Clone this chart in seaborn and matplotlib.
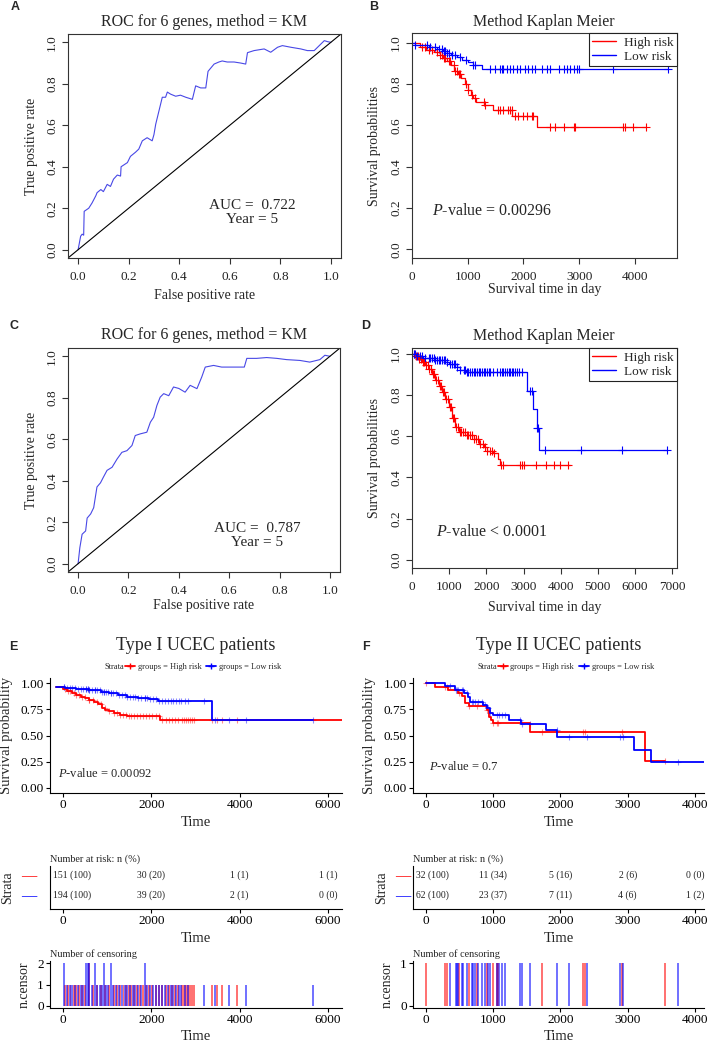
import numpy as np
import matplotlib
matplotlib.use("Agg")
import matplotlib.pyplot as plt
import matplotlib.transforms as mtransforms
from matplotlib.lines import Line2D
import seaborn as sns

# ---------------- data ----------------
roc_a_fpr = [0.0, 0.01, 0.016, 0.022, 0.024, 0.042, 0.055, 0.07, 0.075, 0.09,
             0.10, 0.115, 0.128, 0.14, 0.155, 0.168, 0.170, 0.195, 0.207, 0.227,
             0.24, 0.254, 0.273, 0.293, 0.30, 0.307, 0.32, 0.333, 0.346, 0.353,
             0.366, 0.386, 0.405, 0.426, 0.452, 0.465, 0.485, 0.505, 0.514, 0.538,
             0.557, 0.57, 0.59, 0.617, 0.643, 0.663, 0.67, 0.696, 0.736, 0.762,
             0.789, 0.808, 0.842, 0.881, 0.907, 0.934, 0.954, 0.974, 0.987, 1.0]
roc_a_tpr = [0.0, 0.065, 0.075, 0.07, 0.185, 0.2, 0.225, 0.26, 0.275, 0.29,
             0.28, 0.315, 0.305, 0.34, 0.36, 0.355, 0.40, 0.42, 0.45, 0.47,
             0.485, 0.525, 0.54, 0.525, 0.555, 0.605, 0.67, 0.735, 0.735, 0.76,
             0.75, 0.74, 0.745, 0.735, 0.725, 0.79, 0.78, 0.78, 0.86, 0.895,
             0.905, 0.91, 0.905, 0.905, 0.9, 0.895, 0.95, 0.96, 0.968, 0.952,
             0.976, 0.984, 0.976, 0.968, 0.96, 0.96, 0.984, 1.008, 1.003, 1.0]

roc_c_fpr = [0.0, 0.007, 0.016, 0.03, 0.036, 0.05, 0.062, 0.075, 0.089, 0.10,
             0.115, 0.135, 0.155, 0.174, 0.194, 0.214, 0.227, 0.247, 0.273, 0.287,
             0.30, 0.313, 0.326, 0.34, 0.36, 0.379, 0.40, 0.425, 0.445, 0.472,
             0.491, 0.505, 0.538, 0.57, 0.617, 0.66, 0.67, 0.709, 0.749, 0.789,
             0.828, 0.881, 0.92, 0.96, 0.98, 1.0]
roc_c_tpr = [0.0, 0.077, 0.142, 0.158, 0.22, 0.24, 0.27, 0.37, 0.39, 0.416,
             0.45, 0.465, 0.505, 0.537, 0.545, 0.57, 0.618, 0.626, 0.634, 0.682,
             0.706, 0.763, 0.803, 0.82, 0.81, 0.852, 0.845, 0.827, 0.86, 0.844,
             0.9, 0.948, 0.956, 0.948, 0.948, 0.948, 0.99, 0.99, 0.994, 0.99,
             0.984, 0.98, 0.972, 0.984, 1.005, 1.0]

# Kaplan-Meier steps (time, survival); last entry = end of follow-up
km_b_high_t = [0, 150, 250, 400, 500, 560, 620, 700, 760, 820, 880, 950, 1000,
               1050, 1100, 1150, 1300, 1450, 1800, 2250, 4200]
km_b_high_s = [1, 0.98, 0.965, 0.955, 0.94, 0.925, 0.91, 0.89, 0.865, 0.85, 0.83,
               0.80, 0.77, 0.745, 0.73, 0.715, 0.70, 0.675, 0.645, 0.59, 0.59]
km_b_high_cens = [180, 240, 300, 360, 450, 510, 540, 570, 600, 660, 690, 750, 780,
                  810, 840, 870, 960, 1010, 1075, 1135, 1285, 1315, 1550, 1580,
                  1640, 1730, 1760, 1790, 1850, 1910, 2000, 2060, 2150, 2180, 2480,
                  2570, 2720, 2900, 2930, 3790, 3820, 3970, 4200]
km_b_low_t = [0, 60, 300, 450, 550, 620, 700, 800, 900, 1000, 1100, 1250, 4600]
km_b_low_s = [1, 0.99, 0.98, 0.97, 0.96, 0.95, 0.94, 0.93, 0.915, 0.905, 0.89,
              0.875, 0.875]
km_b_low_cens = [60, 270, 330, 420, 480, 540, 570, 600, 630, 660, 720, 780, 870,
                 960, 1100, 1130, 1400, 1490, 1580, 1610, 1640, 1700, 1760, 1820,
                 1880, 1940, 2030, 2090, 2150, 2210, 2330, 2420, 2480, 2630, 2720,
                 2780, 2840, 2900, 2960, 2990, 3610, 4600]

km_d_high_t = [0, 90, 180, 270, 360, 450, 540, 625, 715, 805, 895, 985, 1075, 1165,
               1255, 1430, 1655, 1790, 1925, 2015, 2190, 2325, 2370, 4250]
km_d_high_s = [1, 0.99, 0.975, 0.96, 0.945, 0.925, 0.90, 0.875, 0.845, 0.815, 0.78,
               0.74, 0.69, 0.645, 0.62, 0.605, 0.585, 0.56, 0.545, 0.53, 0.52, 0.49,
               0.46, 0.46]
km_d_high_cens = [60, 110, 150, 200, 240, 290, 330, 380, 420, 470, 510, 560, 600,
                  650, 690, 740, 780, 830, 870, 920, 960, 1010, 1050, 1100, 1140,
                  1190, 1230, 1280, 1330, 1380, 1420, 1470, 1520, 1570, 1620, 1680,
                  1730, 1780, 1840, 1900, 1960, 2020, 2100, 2150, 2200, 2400, 2450,
                  2900, 2950, 3000, 3330, 3600, 3830, 3970, 4200]
km_d_low_t = [0, 100, 300, 600, 900, 1000, 1200, 1300, 1450, 3100, 3250, 3350, 3430,
              6850]
km_d_low_s = [1, 0.99, 0.98, 0.97, 0.96, 0.95, 0.935, 0.92, 0.91, 0.82, 0.73, 0.64,
              0.535, 0.535]
km_d_low_cens = [45, 90, 130, 220, 270, 360, 450, 490, 540, 580, 630, 670, 720, 760,
                 800, 850, 890, 940, 1030, 1070, 1120, 1160, 1210, 1300, 1390, 1430,
                 1480, 1520, 1570, 1610, 1660, 1700, 1750, 1790, 1840, 1880, 1930,
                 1970, 2020, 2060, 2100, 2190, 2280, 2370, 2420, 2460, 2510, 2550,
                 2600, 2640, 2690, 2730, 2780, 2820, 2870, 2950, 3180, 3230, 3370,
                 3400, 3580, 4550, 5660, 6850]

km_e_high_t = [-160, 0, 100, 200, 300, 400, 500, 600, 700, 800, 880, 960, 1050, 1150,
               1300, 1450, 2200, 6320]
km_e_high_s = [0.96, 0.945, 0.925, 0.905, 0.885, 0.87, 0.855, 0.84, 0.82, 0.80,
               0.765, 0.745, 0.73, 0.714, 0.698, 0.69, 0.65, 0.65]
km_e_high_cens = [40, 110, 170, 240, 300, 370, 430, 490, 600, 600, 680, 760, 860,
                  950, 1050, 1150, 1230, 1300, 1370, 1430, 1490, 1550, 1610, 1680,
                  1740, 1810, 1880, 1950, 2020, 2100, 2180, 2250, 2330, 2400, 2470,
                  2540, 2610, 2690, 2740, 2790, 2830, 2870, 2910, 2960, 3370, 3490,
                  3590, 3940]
km_e_low_t = [-160, 50, 300, 600, 850, 1050, 1250, 1450, 1700, 1950, 2150, 3370, 5650]
km_e_low_s = [0.96, 0.955, 0.945, 0.935, 0.92, 0.905, 0.885, 0.865, 0.855, 0.845,
              0.83, 0.65, 0.65]
km_e_low_cens = [20, 20, 80, 150, 210, 280, 340, 400, 460, 530, 530, 560, 560, 600,
                 600, 650, 730, 730, 780, 830, 880, 920, 920, 970, 1020, 1090, 1090,
                 1140, 1200, 1260, 1330, 1400, 1460, 1520, 1580, 1640, 1700, 1760,
                 1850, 1850, 1900, 1960, 2030, 2100, 2170, 2250, 2320, 2380, 2440,
                 2500, 2560, 2620, 2680, 2760, 2840, 3190, 3450, 3760, 4150, 5660]

km_f_high_t = [0, 130, 330, 480, 530, 580, 640, 900, 930, 960, 1000, 1540, 3250, 3555]
km_f_high_s = [1.0, 0.968, 0.937, 0.905, 0.875, 0.81, 0.78, 0.745, 0.68, 0.645,
               0.615, 0.53, 0.26, 0.26]
km_f_high_cens = [0, 283, 317, 496, 644, 753, 902, 1001, 1051, 1075, 1720, 2340,
                  2364, 2910, 3555]
km_f_low_t = [0, 280, 430, 560, 620, 650, 850, 900, 950, 1000, 1230, 1420, 1780, 1950,
              3100, 3350, 4135]
km_f_low_s = [1.0, 0.97, 0.94, 0.91, 0.87, 0.82, 0.79, 0.76, 0.72, 0.70, 0.65, 0.61,
              0.55, 0.49, 0.36, 0.245, 0.245]
km_f_low_cens = [357, 446, 456, 481, 530, 555, 605, 679, 704, 729, 778, 828, 877, 927,
                 952, 1051, 1090, 1125, 1175, 1398, 1423, 1547, 1943, 2132, 2399, 2885,
                 2935, 3752]

table_e_times = [0, 2000, 4000, 6000]
table_e_high = ["151 (100)", "30 (20)", "1 (1)", "1 (1)"]
table_e_low = ["194 (100)", "39 (20)", "2 (1)", "0 (0)"]
table_f_times = [0, 1000, 2000, 3000, 4000]
table_f_high = ["32 (100)", "11 (34)", "5 (16)", "2 (6)", "0 (0)"]
table_f_low = ["62 (100)", "23 (37)", "7 (11)", "4 (6)", "1 (2)"]

# ---------------- style ----------------
sns.set_theme(style="ticks")
plt.rcParams["font.family"] = ["Liberation Serif", "DejaVu Serif"]
plt.rcParams["mathtext.fontset"] = "custom"
plt.rcParams["mathtext.rm"] = "Liberation Serif"
plt.rcParams["mathtext.it"] = "Liberation Serif:italic"

RED = "#FF0000"
BLUE = "#0000FF"
ROC_COL = "#4848E6"

W, H = 709, 1045
fig = plt.figure(figsize=(W / 100, H / 100), dpi=100)


def rect(l, t, r, b):
    return [l / W, 1 - b / H, (r - l) / W, (b - t) / H]


def fx(px):
    return px / W


def fy(py):
    return 1 - py / H


def xlabel_at(ax, text, py, size):
    ax.set_xlabel(text, fontsize=size)
    tr = mtransforms.blended_transform_factory(ax.transAxes, fig.transFigure)
    ax.xaxis.set_label_coords(0.5, fy(py), transform=tr)
    ax.xaxis.label.set_va("center")


def ylabel_at(ax, text, px, size):
    ax.set_ylabel(text, fontsize=size)
    tr = mtransforms.blended_transform_factory(fig.transFigure, ax.transAxes)
    ax.yaxis.set_label_coords(fx(px), 0.5, transform=tr)
    ax.yaxis.label.set_va("center")


def base_style(ax, xlim, ylim, xticks, yticks):
    ax.set_xlim(xlim)
    ax.set_ylim(ylim)
    ax.set_xticks(xticks)
    ax.set_yticks(yticks)
    for sp in ax.spines.values():
        sp.set_visible(True)
        sp.set_color("#333333")
        sp.set_linewidth(0.8)
    ax.tick_params(direction="out", length=4, width=0.8, color="#333333",
                   labelsize=9.5, labelcolor="#222222", pad=3)
    ax.tick_params(axis="x", pad=5)
    plt.setp(ax.get_yticklabels(), rotation=90, va="center")


def gg_style(ax, xlim, ylim, xticks, yticks):
    ax.set_xlim(xlim)
    ax.set_ylim(ylim)
    ax.set_xticks(xticks)
    ax.set_yticks(yticks)
    sns.despine(ax=ax)
    for s in ("left", "bottom"):
        ax.spines[s].set_color("black")
        ax.spines[s].set_linewidth(0.8)
    ax.tick_params(direction="out", length=3, width=0.8, color="black",
                   labelsize=9.5, labelcolor="black", pad=1.5)


def surv_at(times, surv, t):
    idx = np.searchsorted(np.asarray(times), np.asarray(t), side="right") - 1
    return np.asarray(surv)[np.clip(idx, 0, None)]


def draw_km(ax, t, s, cens, color, lw, size, alpha):
    sns.lineplot(x=t, y=s, drawstyle="steps-post", color=color, linewidth=lw,
                 estimator=None, sort=False, ax=ax, legend=False)
    sns.scatterplot(x=cens, y=surv_at(t, s, cens), marker="+", color=color,
                    s=size, linewidth=0.8, alpha=alpha, ax=ax, legend=False)


def draw_roc(ax, fpr, tpr, auc, pos):
    sns.lineplot(x=fpr, y=tpr, color=ROC_COL, linewidth=0.8, estimator=None,
                 sort=False, ax=ax)
    ax.axline((0, 0), slope=1, color="black", linewidth=0.8)
    base_style(ax, (-0.04, 1.04), (-0.04, 1.04), np.arange(0, 1.01, 0.2),
               np.arange(0, 1.01, 0.2))
    ax.text(pos[0], pos[1], f"AUC =  {auc}", ha="center", va="center", fontsize=11)
    ax.text(pos[0], pos[1] - 0.07, "Year = 5", ha="center", va="center", fontsize=11)


def km_legend(ax):
    h = [Line2D([0], [0], color=RED, lw=1), Line2D([0], [0], color=BLUE, lw=1)]
    leg = ax.legend(h, ["High risk", "Low risk"], loc="upper right", borderaxespad=0,
                    fontsize=9.5, frameon=True, fancybox=False, framealpha=1,
                    edgecolor="#222222", handlelength=1.8, handletextpad=0.6,
                    borderpad=0.25, labelspacing=0.15)
    leg.get_frame().set_linewidth(0.8)


# ---------------- A ----------------
axA = fig.add_axes(rect(68, 34, 341, 258))
draw_roc(axA, roc_a_fpr, roc_a_tpr, "0.722", (0.69, 0.215))
xlabel_at(axA, "False positive rate", 295, 10)
ylabel_at(axA, "True positive rate", 32, 10)
fig.text(fx(204), fy(22), "ROC for 6 genes, method = KM", ha="center", va="center",
         fontsize=11.5)

# ---------------- B ----------------
axB = fig.add_axes(rect(412, 33, 677, 258))
draw_km(axB, km_b_high_t, km_b_high_s, km_b_high_cens, RED, 0.9, 30, 1)
draw_km(axB, km_b_low_t, km_b_low_s, km_b_low_cens, BLUE, 0.9, 30, 1)
base_style(axB, (0, 4755), (-0.042, 1.047), range(0, 4001, 1000),
           np.arange(0, 1.01, 0.2))
km_legend(axB)
axB.text(1440, 0.187, r"$\it{P}$-value = 0.00296", ha="center", va="center",
         fontsize=11.5)
xlabel_at(axB, "Survival time in day", 290, 10)
ylabel_at(axB, "Survival probabilities", 375, 10)
fig.text(fx(544), fy(22), "Method Kaplan Meier", ha="center", va="center",
         fontsize=11.5)

# ---------------- C ----------------
axC = fig.add_axes(rect(68, 348, 340, 572))
draw_roc(axC, roc_c_fpr, roc_c_tpr, "0.787", (0.71, 0.171))
xlabel_at(axC, "False positive rate", 605, 10)
ylabel_at(axC, "True positive rate", 32, 10)
fig.text(fx(204), fy(335), "ROC for 6 genes, method = KM", ha="center", va="center",
         fontsize=11.5)

# ---------------- D ----------------
axD = fig.add_axes(rect(412, 348, 677, 568))
draw_km(axD, km_d_high_t, km_d_high_s, km_d_high_cens, RED, 0.9, 30, 1)
draw_km(axD, km_d_low_t, km_d_low_s, km_d_low_cens, BLUE, 0.9, 30, 1)
base_style(axD, (0, 7130), (-0.04, 1.028), range(0, 7001, 1000),
           np.arange(0, 1.01, 0.2))
km_legend(axD)
axD.text(2150, 0.137, r"$\it{P}$-value < 0.0001", ha="center", va="center",
         fontsize=11.5)
xlabel_at(axD, "Survival time in day", 607, 10)
ylabel_at(axD, "Survival probabilities", 375, 10)
fig.text(fx(544), fy(336), "Method Kaplan Meier", ha="center", va="center",
         fontsize=11.5)


# ---------------- E / F (survminer style) ----------------
def gg_panel(cols, title, xlim, xticks, km, ptext, ppos, table, cens_w, cens_max,
             strata_x, tab_label_x, dash_pad):
    l, r = cols
    cx = (l + r) / 2
    ax = fig.add_axes(rect(l, 678, r, 793))
    draw_km(ax, km[0], km[1], km[2], RED, 1.3, 16, 0.45)
    draw_km(ax, km[3], km[4], km[5], BLUE, 1.3, 16, 0.45)
    gg_style(ax, xlim, (-0.05, 1.05), xticks, [0, 0.25, 0.5, 0.75, 1.0])
    ax.text(ppos[0], ppos[1], ptext, ha="center", va="center", fontsize=9)
    xlabel_at(ax, "Time", 823, 10.5)
    ylabel_at(ax, "Survival probability", l - 43, 10.5)
    fig.text(fx(cx), fy(645), title, ha="center", va="center", fontsize=13)
    # legend
    fig.text(fx(strata_x), fy(667), "Strata", ha="right", va="center", fontsize=6)
    h = [Line2D([0], [0], color=RED, lw=1.3, marker="+", ms=4),
         Line2D([0], [0], color=BLUE, lw=1.3, marker="+", ms=4)]
    ax.legend(h, ["groups = High risk", "groups = Low risk"], loc="center left",
              bbox_to_anchor=(fx(strata_x + 1), fy(667)), bbox_transform=fig.transFigure,
              ncol=2, frameon=False, fontsize=6, handlelength=1.2, handletextpad=0.3,
              columnspacing=0.6, borderpad=0, borderaxespad=0)

    # risk table
    tab = fig.add_axes(rect(l, 866, r, 909))
    times, high, low = table
    for i, (t, hi, lo) in enumerate(zip(times, high, low)):
        first = i == 0
        for txt, yrow in ((hi, 1.5), (lo, 0.5)):
            tab.annotate(txt, (t, yrow), xytext=(-7 if first else 0, 0),
                         textcoords="offset points", ha="left" if first else "center",
                         va="center", fontsize=7, color="#222222")
    gg_style(tab, xlim, (-0.22, 1.95), xticks, [1.5, 0.5])
    tab.set_yticklabels(["\u2014", "\u2014"])
    for lab, c in zip(tab.get_yticklabels(), [RED, BLUE]):
        lab.set_color(c)
    tab.tick_params(axis="y", length=0, labelsize=11, pad=dash_pad)
    tab.set_title("Number at risk: n (%)", loc="left", fontsize=7.4, pad=3)
    xlabel_at(tab, "Time", 938, 10.5)
    ylabel_at(tab, "Strata", tab_label_x, 10)

    # number of censoring
    cen = fig.add_axes(rect(l, 961, r, 1008))
    for times_c, color in ((km[2], RED), (km[5], BLUE)):
        vals, counts = np.unique(times_c, return_counts=True)
        cen.bar(vals, counts, width=cens_w, color=color, alpha=0.55, linewidth=0)
    gg_style(cen, xlim, (-0.05 * cens_max, cens_max * 1.05), xticks,
             list(range(cens_max + 1)))
    cen.set_title("Number of censoring", loc="left", fontsize=7.4, pad=3)
    xlabel_at(cen, "Time", 1036, 10.5)
    ylabel_at(cen, "n.censor", l - 26, 10)


gg_panel((50, 342), "Type I UCEC patients", (-294, 6317), range(0, 6001, 2000),
         (km_e_high_t, km_e_high_s, km_e_high_cens, km_e_low_t, km_e_low_s,
          km_e_low_cens),
         r"$\it{P}$-value = 0.00092", (956, 0.137),
         (table_e_times, table_e_high, table_e_low), 45, 2, 124, 8, 10)

gg_panel((413, 704), "Type II UCEC patients", (-193, 4134), range(0, 4001, 1000),
         (km_f_high_t, km_f_high_s, km_f_high_cens, km_f_low_t, km_f_low_s,
          km_f_low_cens),
         r"$\it{P}$-value = 0.7", (565, 0.206),
         (table_f_times, table_f_high, table_f_low), 30, 1, 497, 382, 2)

# panel letters
for letter, x, y in (("A", 15, 7), ("B", 374, 7), ("C", 14, 326), ("D", 366, 326),
                     ("E", 13, 647), ("F", 366, 647)):
    fig.text(fx(x), fy(y), letter, ha="center", va="center", fontsize=9,
             fontweight="bold", family="Liberation Sans")

fig.savefig("out.png", dpi=100)
